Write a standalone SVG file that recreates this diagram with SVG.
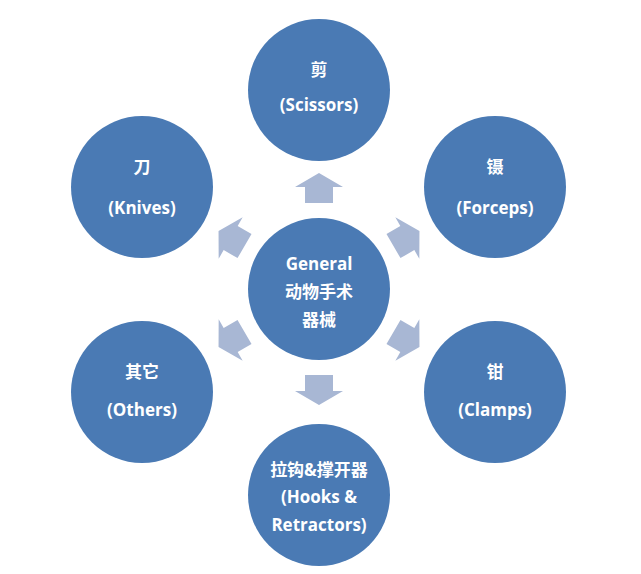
<svg xmlns="http://www.w3.org/2000/svg" width="641" height="574" viewBox="0 0 641 574">
<defs>
<style>
.n{fill:#4A7AB4}
.a{fill:#A8B7D4}
text{fill:#fff;font-family:"Open Sans","Noto Sans CJK SC",sans-serif;font-weight:bold;font-size:17px;text-anchor:middle}
</style>
<path id="arr" d="M-14,-86 L-14,-102 L-24,-102 L0,-116 L24,-102 L14,-102 L14,-86 Z"/>
</defs>
<rect width="641" height="574" fill="#fff"/>
<g id="connectors" class="a" transform="translate(319,289)">
<use href="#arr"/>
<use href="#arr" transform="rotate(60)"/>
<use href="#arr" transform="rotate(120)"/>
<use href="#arr" transform="rotate(180)"/>
<use href="#arr" transform="rotate(240)"/>
<use href="#arr" transform="rotate(300)"/>
</g>
<g id="center"><circle class="n" cx="319" cy="289" r="71"/>
<text x="319" y="270">General</text><text x="319" y="298">动物手术</text><text x="319" y="326">器械</text></g>
<g id="scissors"><circle class="n" cx="319" cy="90" r="71"/>
<text x="319" y="76">剪</text><text x="319" y="111">(Scissors)</text></g>
<g id="knives"><circle class="n" cx="142" cy="187" r="71"/>
<text x="142" y="173">刀</text><text x="142" y="214">(Knives)</text></g>
<g id="forceps"><circle class="n" cx="495" cy="187" r="71"/>
<text x="495" y="173">镊</text><text x="495" y="214">(Forceps)</text></g>
<g id="others"><circle class="n" cx="142" cy="392" r="71"/>
<text x="142" y="378">其它</text><text x="142" y="416">(Others)</text></g>
<g id="clamps"><circle class="n" cx="495" cy="392" r="71"/>
<text x="495" y="378">钳</text><text x="495" y="416">(Clamps)</text></g>
<g id="hooks"><circle class="n" cx="319" cy="495" r="71"/>
<text x="319" y="476">拉钩&amp;撑开器</text><text x="319" y="503">(Hooks &amp;</text><text x="319" y="531">Retractors)</text></g>
</svg>
